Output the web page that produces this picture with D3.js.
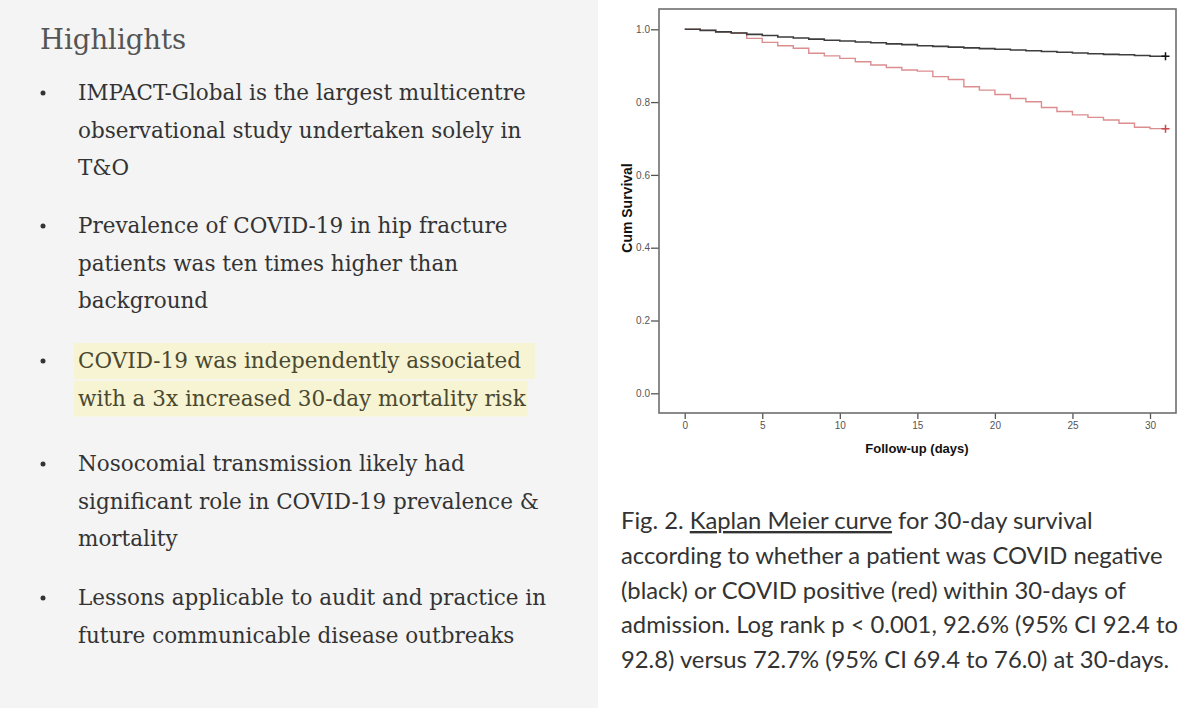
<!DOCTYPE html>
<html>
<head>
<meta charset="utf-8">
<script src="https://cdn.jsdelivr.net/npm/d3@7"></script>
<style>
  html, body { margin: 0; padding: 0; background: #fff; }
  svg { display: block; }
</style>
</head>
<body>
<svg id="chart" width="1200" height="708"></svg>
<script>
// ---------------- DATA ----------------
const days = [0,1,2,3,4,5,6,7,8,9,10,11,12,13,14,15,16,17,18,19,20,21,22,23,24,25,26,27,28,29,30];
const survivalNegative = [1.000,0.997,0.993,0.990,0.986,0.983,0.979,0.976,0.973,0.970,0.968,0.965,0.963,0.960,0.958,0.955,0.953,0.951,0.949,0.947,0.945,0.943,0.941,0.939,0.937,0.935,0.933,0.931,0.930,0.928,0.926];
const survivalPositive = [1.000,0.997,0.993,0.990,0.975,0.964,0.955,0.948,0.934,0.927,0.920,0.911,0.902,0.895,0.888,0.885,0.870,0.862,0.842,0.833,0.821,0.810,0.801,0.785,0.774,0.765,0.758,0.751,0.742,0.731,0.727];
const lastFollowUp = 31;
const xTicks = [0,5,10,15,20,25,30];
const yTicks = [0.0,0.2,0.4,0.6,0.8,1.0];
const xAxisTitle = "Follow-up (days)";
const yAxisTitle = "Cum Survival";

const pageTitle = "Highlights";
const highlights = [
  ["IMPACT-Global is the largest multicentre", "observational study undertaken solely in", "T&O"],
  ["Prevalence of COVID-19 in hip fracture", "patients was ten times higher than", "background"],
  ["COVID-19 was independently associated", "with a 3x increased 30-day mortality risk"],
  ["Nosocomial transmission likely had", "significant role in COVID-19 prevalence &", "mortality"],
  ["Lessons applicable to audit and practice in", "future communicable disease outbreaks"]
];
const highlightedItem = 2;
const captionLines = [
  [["Fig. 2. ", false], ["Kaplan Meier curve", true], [" for 30-day survival", false]],
  [["according to whether a patient was COVID negative", false]],
  [["(black) or COVID positive (red) within 30-days of", false]],
  [["admission. Log rank p < 0.001, 92.6% (95% CI 92.4 to", false]],
  [["92.8) versus 72.7% (95% CI 69.4 to 76.0) at 30-days.", false]]
];

// ---------------- LAYOUT ----------------
const svg = d3.select("#chart");

// left panel
svg.append("rect").attr("x", 0).attr("y", 0).attr("width", 598).attr("height", 708).attr("fill", "#f4f4f4");

const serif = "'DejaVu Serif', 'Liberation Serif', serif";
svg.append("text").attr("x", 40).attr("y", 49)
  .attr("font-family", serif).attr("font-size", 27.5).attr("fill", "#555")
  .text(pageTitle);

const itemStarts = [100, 233, 368, 471, 605];
const lineH = 37.5;
highlights.forEach((lines, i) => {
  const y0 = itemStarts[i];
  const isHi = i === highlightedItem;
  svg.append("circle").attr("cx", 43).attr("cy", y0 - 7).attr("r", 2.5).attr("fill", "#333");
  lines.forEach((ln, j) => {
    const t = svg.append("text").attr("x", 78).attr("y", y0 + j * lineH)
      .attr("font-family", serif).attr("font-size", 21.5)
      .attr("fill", isHi ? "#4a4930" : "#333").text(ln);
    if (isHi) {
      const w = t.node().getComputedTextLength();
      svg.insert("rect", "text")
        .attr("x", 74).attr("y", y0 + j * lineH - 25)
        .attr("width", w + (j === 0 ? 18 : 6)).attr("height", 36)
        .attr("fill", "#f7f4d4");
    }
  });
});

// caption
const sans = "Lato, 'Open Sans', sans-serif";
const capStarts = 529, capH = 34.8;
captionLines.forEach((segs, i) => {
  const t = svg.append("text").attr("x", 621).attr("y", capStarts + i * capH)
    .attr("font-family", sans).attr("font-size", 23.8).attr("fill", "#333");
  segs.forEach(([s, u]) => {
    t.append("tspan").text(s).attr("text-decoration", u ? "underline" : null);
  });
});

// ---------------- CHART ----------------
const frame = {left: 659, top: 9, right: 1176, bottom: 413};
const x = d3.scaleLinear().domain([0, 30]).range([684.7, 1150]);
const y = d3.scaleLinear().domain([0, 1]).range([393.3, 29.3]);

const g = svg.append("g");

const xAxis = g.append("g").attr("transform", `translate(0,${frame.bottom})`)
  .call(d3.axisBottom(x).tickValues(xTicks).tickSize(6).tickPadding(3).tickFormat(d3.format("d")));
const yAxis = g.append("g").attr("transform", `translate(${frame.left},0)`)
  .call(d3.axisLeft(y).tickValues(yTicks).tickSize(8).tickPadding(1).tickFormat(d3.format(".1f")));
[xAxis, yAxis].forEach(a => {
  a.select(".domain").remove();
  a.selectAll(".tick line").attr("stroke", "#555").attr("stroke-width", 1.3);
  a.selectAll(".tick text").attr("fill", "#555").attr("font-family", "Arial, 'Liberation Sans', sans-serif").attr("font-size", 10);
});

g.append("rect").attr("x", frame.left).attr("y", frame.top)
  .attr("width", frame.right - frame.left).attr("height", frame.bottom - frame.top)
  .attr("fill", "none").attr("stroke", "#6e6e6e").attr("stroke-width", 1.6);

const line = d3.line().x(d => x(d[0])).y(d => y(d[1])).curve(d3.curveStepAfter);
function series(vals) {
  const pts = days.map((d, i) => [d, vals[i]]);
  pts.push([lastFollowUp, vals[vals.length - 1]]);
  return pts;
}
const groups = [
  {vals: survivalPositive, color: "#dc8d90", mark: "#c9474f", w: 1.4},
  {vals: survivalNegative, color: "#3d3d3d", mark: "#111", w: 1.6}
];
groups.forEach(s => {
  g.append("path").datum(series(s.vals)).attr("d", line)
    .attr("fill", "none").attr("stroke", s.color).attr("stroke-width", s.w);
  const cx = x(lastFollowUp), cy = y(s.vals[s.vals.length - 1]);
  g.append("path").attr("d", `M${cx - 4},${cy}H${cx + 4}M${cx},${cy - 4}V${cy + 4}`)
    .attr("stroke", s.mark).attr("stroke-width", 1.5);
});

const lbl = "Arial, 'Liberation Sans', sans-serif";
g.append("text").attr("x", 917).attr("y", 452.5).attr("text-anchor", "middle")
  .attr("font-family", lbl).attr("font-weight", "bold").attr("font-size", 13).attr("fill", "#111")
  .text(xAxisTitle);
g.append("text").attr("transform", "translate(632,208) rotate(-90)").attr("text-anchor", "middle")
  .attr("font-family", lbl).attr("font-weight", "bold").attr("font-size", 14).attr("fill", "#111")
  .text(yAxisTitle);
</script>
</body>
</html>
